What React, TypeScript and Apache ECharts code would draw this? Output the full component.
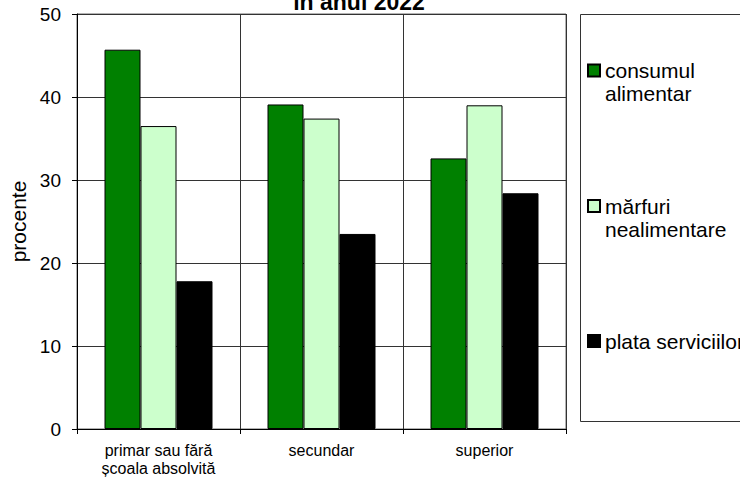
import React, { useEffect, useRef } from "react";
import * as echarts from "echarts";

const categories = ["primar sau fără\nșcoala absolvită", "secundar", "superior"];
const seriesNames = ["consumul alimentar", "mărfuri nealimentare", "plata serviciilor"];
const legendLabels = ["\nconsumul\nalimentar", "\nmărfuri\nnealimentare", "plata serviciilor"];
const consumulAlimentar = [45.7, 39.1, 32.6];
const marfuriNealimentare = [36.5, 37.4, 39.0];
const plataServiciilor = [17.8, 23.5, 28.4];
const colors = ["#008000", "#CCFFCC", "#000000"];
const yTicks = { min: 0, max: 50, interval: 10 };
const titleText = "în anul 2022";
const yName = "procente";

const FONT = "'Liberation Sans', Arial, sans-serif";

export default function App() {
  const ref = useRef<HTMLDivElement>(null);
  useEffect(() => {
    if (!ref.current) return;
    const chart = echarts.init(ref.current, undefined, { renderer: "svg" });
    const values = [consumulAlimentar, marfuriNealimentare, plataServiciilor];
    const legendTops = [36, 171.5, 329.5];
    const lineH = 23;
    chart.setOption({
      animation: false,
      textStyle: { fontFamily: FONT },
      grid: {
        left: 77,
        right: 174,
        top: 14,
        bottom: 51,
        show: true,
        borderColor: "#666",
        borderWidth: 1,
        containLabel: false,
        outerBoundsMode: "none",
      },
      xAxis: {
        type: "category",
        data: categories,
        axisLine: { show: true, lineStyle: { color: "#000", width: 1 } },
        axisTick: { show: true, length: 5, lineStyle: { color: "#000" } },
        splitLine: { show: true, lineStyle: { color: "#333", width: 1 } },
        axisLabel: {
          color: "#000",
          fontSize: 16,
          lineHeight: 18,
          margin: 12,
          fontFamily: FONT,
          interval: 0,
        },
      },
      yAxis: {
        type: "value",
        min: yTicks.min,
        max: yTicks.max,
        interval: yTicks.interval,
        name: yName,
        nameLocation: "middle",
        nameGap: 46,
        nameTextStyle: { color: "#000", fontSize: 21, fontFamily: FONT },
        axisLine: { show: true, lineStyle: { color: "#000", width: 1 } },
        axisTick: { show: true, length: 5, lineStyle: { color: "#000" } },
        splitLine: { show: true, lineStyle: { color: "#333", width: 1 } },
        axisLabel: { color: "#000", fontSize: 19, margin: 16, fontFamily: FONT },
      },
      legend: seriesNames.map((n, i) => ({
        data: [n],
        left: 587,
        top: legendTops[i],
        padding: 0,
        orient: "vertical",
        icon: "rect",
        itemWidth: 12,
        itemHeight: 12,
        formatter: () => legendLabels[i],
        textStyle: { color: "#000", fontSize: 21, lineHeight: lineH, fontFamily: FONT },
      })),
      graphic: [
        {
          type: "rect",
          shape: { x: 580.5, y: 14.5, width: 200, height: 407 },
          style: { fill: "none", stroke: "#333", lineWidth: 1 },
          z: -1,
        },
        {
          type: "text",
          x: 359,
          y: 13,
          style: {
            text: titleText,
            fontSize: 23,
            fontWeight: "bold",
            fontFamily: FONT,
            fill: "#000",
            textAlign: "center",
            textVerticalAlign: "bottom",
          },
        },
      ],
      series: seriesNames.map((n, i) => ({
        name: n,
        type: "bar",
        data: values[i],
        barWidth: 36,
        barGap: "0%",
        itemStyle: { color: colors[i], borderColor: "#000", borderWidth: 1 },
      })),
    });
    return () => chart.dispose();
  }, []);
  return (
    <div
      ref={ref}
      style={{ position: "fixed", left: 0, top: 0, width: 740, height: 480, background: "#fff" }}
    />
  );
}
